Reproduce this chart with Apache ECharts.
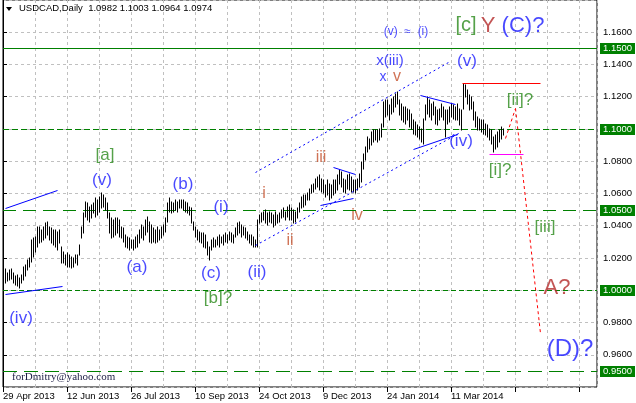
<!DOCTYPE html>
<html><head><meta charset="utf-8">
<script src="https://cdn.jsdelivr.net/npm/echarts@6.0.0/dist/echarts.min.js"></script>
<style>html,body{margin:0;padding:0;background:#fff}#c{width:636px;height:403px}</style>
</head><body><div id="c"></div>
<script>
// ---- data ----
const dateLabels = ['29 Apr 2013','12 Jun 2013','26 Jul 2013','10 Sep 2013','24 Oct 2013','9 Dec 2013','24 Jan 2014','11 Mar 2014'];
const highs = [
1.0131,1.0131,1.0106,1.0123,1.0131,1.0106,1.0086,1.0096,1.0075,1.0096,
1.0147,1.0158,1.0189,1.0199,1.0312,1.0322,1.0333,1.0395,1.0395,1.0374,
1.0395,1.0415,1.0426,1.0395,1.0384,1.0374,1.0374,1.0364,1.0374,1.0271,
1.0240,1.0220,1.0230,1.0220,1.0209,1.0199,1.0220,1.0220,1.0281,1.0395,
1.0477,1.0549,1.0539,1.0518,1.0528,1.0539,1.0570,1.0559,1.0580,1.0601,
1.0590,1.0570,1.0539,1.0477,1.0446,1.0436,1.0446,1.0446,1.0436,1.0395,
1.0384,1.0343,1.0333,1.0323,1.0312,1.0312,1.0333,1.0343,1.0374,1.0405,
1.0395,1.0436,1.0457,1.0426,1.0405,1.0385,1.0374,1.0395,1.0374,1.0395,
1.0405,1.0446,1.0539,1.0570,1.0549,1.0539,1.0560,1.0549,1.0560,1.0560,
1.0560,1.0549,1.0539,1.0518,1.0508,1.0426,1.0395,1.0374,1.0364,1.0354,
1.0354,1.0343,1.0302,1.0271,1.0312,1.0323,1.0312,1.0333,1.0343,1.0333,
1.0343,1.0354,1.0343,1.0364,1.0354,1.0343,1.0385,1.0416,1.0426,1.0405,
1.0395,1.0385,1.0364,1.0343,1.0343,1.0333,1.0312,1.0436,1.0467,1.0477,
1.0487,1.0498,1.0477,1.0487,1.0477,1.0467,1.0487,1.0467,1.0477,1.0498,
1.0508,1.0487,1.0518,1.0528,1.0508,1.0498,1.0487,1.0508,1.0539,1.0580,
1.0590,1.0590,1.0601,1.0631,1.0652,1.0662,1.0693,1.0704,1.0714,1.0693,
1.0683,1.0652,1.0683,1.0662,1.0652,1.0683,1.0683,1.0714,1.0745,1.0735,
1.0693,1.0683,1.0714,1.0724,1.0704,1.0683,1.0683,1.0693,1.0724,1.0796,
1.0848,1.0889,1.0951,1.0940,1.0982,1.0992,1.0992,1.0992,1.1002,1.1033,
1.1167,1.1177,1.1178,1.1147,1.1188,1.1198,1.1219,1.1229,1.1178,1.1157,
1.1136,1.1136,1.1126,1.1116,1.1095,1.1054,1.1044,1.1023,1.1013,1.1003,
1.1064,1.1147,1.1198,1.1178,1.1157,1.1167,1.1136,1.1116,1.1126,1.1157,
1.1136,1.1116,1.1116,1.1136,1.1157,1.1147,1.1136,1.1157,1.1126,1.1116,
1.1281,1.1270,1.1239,1.1208,1.1198,1.1167,1.1106,1.1075,1.1064,1.1054,
1.1054,1.1033,1.1023,1.1003,1.0992,1.0951,1.0961,1.0982,1.0992,1.1013,
1.1003];
const lows = [
1.0065,1.0048,1.0055,1.0065,1.0069,1.0044,1.0034,1.0024,1.0013,1.0044,
1.0065,1.0086,1.0127,1.0147,1.0178,1.0209,1.0240,1.0271,1.0292,1.0302,
1.0312,1.0322,1.0343,1.0312,1.0292,1.0281,1.0271,1.0250,1.0292,1.0168,
1.0168,1.0158,1.0147,1.0147,1.0137,1.0147,1.0168,1.0158,1.0220,1.0322,
1.0353,1.0456,1.0436,1.0426,1.0446,1.0477,1.0456,1.0467,1.0487,1.0508,
1.0518,1.0498,1.0446,1.0353,1.0322,1.0333,1.0343,1.0353,1.0333,1.0322,
1.0302,1.0271,1.0261,1.0251,1.0261,1.0251,1.0261,1.0271,1.0292,1.0323,
1.0312,1.0343,1.0364,1.0302,1.0292,1.0302,1.0292,1.0302,1.0312,1.0323,
1.0343,1.0364,1.0426,1.0488,1.0477,1.0488,1.0498,1.0488,1.0508,1.0508,
1.0498,1.0488,1.0477,1.0467,1.0416,1.0374,1.0333,1.0312,1.0302,1.0292,
1.0271,1.0261,1.0220,1.0189,1.0251,1.0271,1.0271,1.0282,1.0271,1.0292,
1.0282,1.0302,1.0292,1.0312,1.0302,1.0292,1.0333,1.0343,1.0354,1.0333,
1.0343,1.0323,1.0312,1.0292,1.0282,1.0271,1.0271,1.0271,1.0415,1.0426,
1.0436,1.0415,1.0405,1.0426,1.0415,1.0395,1.0405,1.0415,1.0426,1.0446,
1.0456,1.0436,1.0456,1.0436,1.0436,1.0415,1.0426,1.0446,1.0487,1.0508,
1.0518,1.0528,1.0559,1.0559,1.0601,1.0611,1.0631,1.0642,1.0621,1.0611,
1.0601,1.0580,1.0590,1.0559,1.0570,1.0590,1.0601,1.0621,1.0662,1.0642,
1.0611,1.0601,1.0631,1.0621,1.0611,1.0611,1.0601,1.0621,1.0642,1.0673,
1.0755,1.0807,1.0858,1.0879,1.0899,1.0920,1.0930,1.0920,1.0930,1.0951,
1.1013,1.1075,1.1085,1.1054,1.1095,1.1106,1.1136,1.1157,1.1085,1.1054,
1.1044,1.1033,1.1054,1.1013,1.1003,1.0972,1.0961,1.0951,1.0941,1.0920,
1.0910,1.1054,1.1095,1.1075,1.1054,1.1085,1.1033,1.1023,1.1054,1.1075,
1.1054,1.0951,1.1033,1.1044,1.1075,1.1064,1.1054,1.1054,1.1023,1.0992,
1.1126,1.1198,1.1157,1.1116,1.1126,1.1054,1.1013,1.0992,1.0992,1.0982,
1.0972,1.0961,1.0951,1.0930,1.0910,1.0858,1.0879,1.0889,1.0920,1.0941,
1.0964];
const levelPrices = [1.15, 1.10, 1.05, 1.00, 0.95];
const headerText = 'USDCAD,Daily  1.0982 1.1003 1.0964 1.0974';
const signature = 'forDmitry@yahoo.com';

// annotations anchored in (bar index, price)
const annotations = [
  ['[a]', 51, 1.0838, 'g', 17], ['(v)', 49.5, 1.0683, 'b', 17],
  ['(a)', 67, 1.0145, 'b', 17], ['(b)', 90, 1.0658, 'b', 17],
  ['(c)', 104, 1.0102, 'b', 17], ['[b]?', 107.5, 0.9953, 'g', 17],
  ['(i)', 109, 1.0516, 'b', 17], ['(ii)', 127, 1.0114, 'b', 17],
  ['(iv)', 9, 0.9829, 'b', 17],
  ['i', 130.5, 1.0602, 'r', 16], ['ii', 143.5, 1.0305, 'r', 16],
  ['iii', 159, 1.0825, 'r', 16], ['iv', 177, 1.046, 'r', 16],
  ['x(iii)', 193.5, 1.1425, 'b', 15], ['x', 190, 1.1322, 'b', 14], ['v', 197, 1.1323, 'r', 16],
  ['(v)  \u2248  (i)', 201.5, 1.1604, 'b', 12],
  ['[c]', 231.5, 1.1641, 'g', 20], ['Y', 242.5, 1.1641, 'd', 22], ['(C)?', 260, 1.1641, 'b', 22],
  ['(v)', 232, 1.1419, 'b', 17], ['(iv)', 229, 1.0924, 'b', 17],
  ['[ii]?', 258.5, 1.1178, 'g', 17], ['[i]?', 248.5, 1.0745, 'g', 17],
  ['[iii]', 271, 1.0392, 'g', 17], ['A?', 277, 1.0015, 'd', 22],
  ['(D)?', 283.5, 0.9631, 'b', 24]
];
// trend lines: [i1, p1, i2, p2, styleKey]
const trendLines = [
  [1, 1.0510, 27, 1.0621, 'blue'],
  [1, 0.9978, 29.5, 1.0027, 'blue'],
  [126, 1.0732, 222.5, 1.1413, 'bdot'],
  [126, 1.0281, 228.5, 1.0980, 'bdot'],
  [165, 1.0763, 176, 1.0720, 'blue'],
  [158.5, 1.0528, 175.2, 1.0570, 'blue'],
  [208.5, 1.1208, 226, 1.1153, 'blue'],
  [205.2, 1.0879, 226.8, 1.0972, 'blue'],
  [229.3, 1.1285, 268.5, 1.1285, 'red'],
  [243.2, 1.0842, 259.8, 1.0842, 'mag'],
  [251, 1.0943, 256, 1.1128, 'rdot'],
  [256, 1.1128, 268.5, 0.9737, 'rdot']
];

// ---- styles ----
const colors = { g: '#2a8a1c', b: '#1a1aff', r: '#c4502c', d: '#b42a2a' };
const lineStyles = {
  blue: { stroke: '#0000ff', lineDash: null },
  bdot: { stroke: '#0000ff', lineDash: [2, 3] },
  red: { stroke: '#ff0000', lineDash: null },
  mag: { stroke: '#ff00ff', lineDash: null },
  rdot: { stroke: '#ff0000', lineDash: [3, 3] }
};
const styleKeys = Object.keys(lineStyles);
const levelDash = [null, [6, 3], [13, 7], [5, 3], [14, 7]];
const FONT = 'Liberation Sans';

const chart = echarts.init(document.getElementById('c'), null, { renderer: 'canvas' });
const barData = highs.map((h, i) => [i, lows[i], h]);
const crisp = v => Math.round(v) + 0.5;

const series = [];
// OHLC bars (high-low sticks)
series.push({
  type: 'custom', data: barData, encode: { x: 0, y: [1, 2] }, z: 3, silent: true,
  renderItem: function (params, api) {
    const lo = api.coord([api.value(0), api.value(1)]);
    const hi = api.coord([api.value(0), api.value(2)]);
    const x = crisp(lo[0]);
    return { type: 'line', shape: { x1: x, y1: Math.round(lo[1]) + 0.5, x2: x, y2: Math.round(hi[1]) - 0.5 },
      style: { stroke: '#000', lineWidth: 1 } };
  }
});
// horizontal levels with price boxes
series.push({
  type: 'custom', data: levelPrices.map((p, k) => [0, p, k]), encode: { x: 0, y: 1 }, z: 2, silent: true, clip: false,
  renderItem: function (params, api) {
    const c = api.coord([0, api.value(1)]);
    const y = crisp(c[1]);
    const cs = params.coordSys;
    const k = api.value(2);
    return { type: 'group', children: [
      { type: 'line', shape: { x1: cs.x, y1: y, x2: cs.x + cs.width, y2: y },
        style: { stroke: '#008000', lineWidth: 1, lineDash: levelDash[k] } },
      { type: 'rect', shape: { x: cs.x + cs.width + 3, y: y - 5.5, width: 35, height: 11 }, style: { fill: '#008000' } },
      { type: 'text', style: { text: api.value(1).toFixed(4), x: cs.x + cs.width + 6, y: y, verticalAlign: 'middle',
        fill: '#fff', font: '9.5px "Liberation Sans"' } }
    ] };
  }
});
// trend lines
series.push({
  type: 'custom', z: 4, silent: true, clip: true,
  data: trendLines.map(t => [t[0], t[1], t[2], t[3], styleKeys.indexOf(t[4])]),
  encode: { x: [0, 2], y: [1, 3] },
  renderItem: function (params, api) {
    const a = api.coord([api.value(0), api.value(1)]);
    const b = api.coord([api.value(2), api.value(3)]);
    const st = lineStyles[styleKeys[api.value(4)]];
    return { type: 'line', shape: { x1: crisp(a[0]), y1: crisp(a[1]), x2: crisp(b[0]), y2: crisp(b[1]) },
      style: { stroke: st.stroke, lineWidth: 1, lineDash: st.lineDash } };
  }
});
// text annotations
series.push({
  type: 'scatter', symbolSize: 1, itemStyle: { color: 'rgba(0,0,0,0)' }, silent: true, z: 5,
  data: annotations.map(a => ({ value: [a[1], a[2]],
    label: { show: true, position: 'inside', formatter: a[0], color: colors[a[3]], fontSize: a[4], fontFamily: FONT } }))
});

chart.setOption({
  animation: false,
  backgroundColor: '#fff',
  grid: { left: 3, right: 39, top: 0, bottom: 16, show: true, borderColor: '#000', borderWidth: 1, backgroundColor: 'transparent' },
  xAxis: [{
    type: 'value', min: 0, max: 297, interval: 32,
    axisLine: { show: false },
    axisTick: { show: true, length: 5, lineStyle: { color: '#000' } },
    axisLabel: { formatter: v => (v % 32 === 0 && dateLabels[v / 32]) ? dateLabels[v / 32] : '', align: 'left', margin: 4,
      color: '#000', fontFamily: FONT, fontSize: 9.5, showMaxLabel: false },
    splitLine: { show: true, lineStyle: { color: '#c0c0c0', type: [3, 3] } }
  }, {
    type: 'value', min: 0, max: 297, interval: 16, position: 'bottom',
    axisLine: { show: false }, axisTick: { show: false }, axisLabel: { show: false },
    splitLine: { show: true, lineStyle: { color: '#c0c0c0', type: [3, 3] } }
  }],
  yAxis: {
    type: 'value', position: 'right', min: 0.94, max: 1.18, interval: 0.02,
    axisLine: { show: true, lineStyle: { color: '#000' } },
    axisTick: { show: true, length: 4, lineStyle: { color: '#000' } },
    axisLabel: { margin: 6, color: '#000', fontFamily: FONT, fontSize: 9.5, showMinLabel: false, showMaxLabel: false,
      formatter: v => levelPrices.some(p => Math.abs(p - v) < 1e-6) ? '' : v.toFixed(4) },
    splitLine: { show: true, lineStyle: { color: '#c0c0c0', type: [3, 3] } }
  },
  graphic: [
    { type: 'polygon', shape: { points: [[6, 7], [12, 7], [9, 11]] }, style: { fill: '#000' }, z: 10 },
    { type: 'text', left: 19, top: 3, style: { text: headerText, fill: '#000', font: '9.5px "Liberation Sans"' }, z: 10 },
    { type: 'text', left: 12, top: 372, style: { text: signature, fill: '#1c1c44', font: '11px "Liberation Serif"' }, z: 10 }
  ],
  series: series
});
</script></body></html>
